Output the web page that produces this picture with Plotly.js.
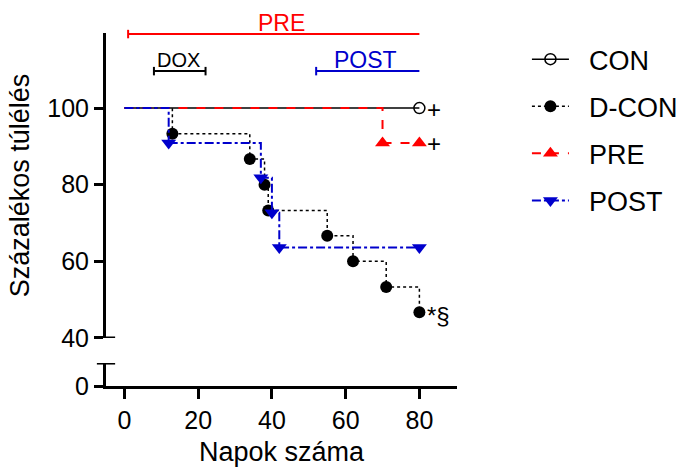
<!DOCTYPE html>
<html>
<head>
<meta charset="utf-8">
<script src="https://cdn.plot.ly/plotly-3.0.1.min.js"></script>
<style>html,body{margin:0;padding:0;background:#fff;}#chart{width:687px;height:470px;}</style>
</head>
<body>
<div id="chart"></div>
<script>
// ---- data ----
const groupNames = ['CON', 'D-CON', 'PRE', 'POST'];
const conDays  = [0, 80];
const conSurv  = [100, 100];
const dconDays = [0, 13, 34, 38, 39, 55, 62, 71, 80];
const dconSurv = [100, 93.3, 86.7, 80, 73.3, 66.7, 60, 53.3, 46.7];
const preDays  = [0, 70, 80];
const preSurv  = [100, 90.9, 90.9];
const postDays = [0, 12, 37, 40, 42, 80];
const postSurv = [100, 90.9, 81.8, 72.7, 63.6, 63.6];
const endMarks = ['+', '*§', '+', ''];
const periodNames = ['PRE', 'DOX', 'POST'];
const periodStart = [1, 8, 52];
const periodEnd   = [80, 22, 80];
const periodLabelDay = [42.5, 14.6, 65.4];
const xTicks = [0, 20, 40, 60, 80];
const yTicksUpper = [40, 60, 80, 100];
const yTicksLower = [0];

// ---- styles ----
const FONT = 'Liberation Sans, Arial, Helvetica, sans-serif';
const RED = '#FF0000', BLUE = '#0000CC', BLACK = '#000000';

const styles = [
  {line: {color: BLACK, width: 1.5, dash: 'solid'},
   marker: {symbol: 'circle-open', size: 11, color: BLACK, opacity: 1, line: {width: 1.5, color: BLACK}}},
  {line: {color: BLACK, width: 1.5, dash: 'dot'},
   marker: {symbol: 'circle', size: 12, color: BLACK, opacity: 1, line: {width: 0, color: BLACK}}},
  {line: {color: RED, width: 2, dash: 'dash'},
   marker: {symbol: 'triangle-up', size: 13, color: RED, opacity: 1, line: {width: 0, color: RED}}},
  {line: {color: BLUE, width: 2, dash: 'dashdot'},
   marker: {symbol: 'triangle-down', size: 13, color: BLUE, opacity: 1, line: {width: 0, color: BLUE}}}
];

const series = [[conDays, conSurv], [dconDays, dconSurv], [preDays, preSurv], [postDays, postSurv]];
const traces = [];
series.forEach((s, i) => {
  const st = styles[i];
  // initial step from day 0 to the first event (no symbol at day 0)
  traces.push({x: s[0].slice(0, 2), y: s[1].slice(0, 2), mode: 'lines', showlegend: false,
    legendgroup: 'g' + i, hoverinfo: 'skip', line: Object.assign({shape: 'hv'}, st.line)});
  // events (symbols) and the rest of the step curve
  traces.push({x: s[0].slice(1), y: s[1].slice(1), mode: 'lines+markers', name: '\u00a0\u00a0' + groupNames[i],
    legendgroup: 'g' + i, line: Object.assign({shape: 'hv'}, st.line), marker: st.marker});
});

const annotations = [];
series.forEach((s, i) => {
  if (!endMarks[i]) return;
  annotations.push({x: s[0][s[0].length - 1], y: s[1][s[1].length - 1], xref: 'x', yref: 'y',
    text: endMarks[i], showarrow: false, xanchor: 'left', xshift: 6, yshift: i === 1 ? -3 : -1,
    font: {family: FONT, size: 24, color: BLACK}});
});

const periodColors = [RED, BLACK, BLUE];
const periodBarY = [0.997, 0.892, 0.892];
const periodTextY = [1.029, 0.9235, 0.9235];
const periodFont = [23, 20, 23];
const periodRightCap = [false, true, false];
const shapes = [];
const capH = 0.012;
periodNames.forEach((n, i) => {
  const c = periodColors[i];
  shapes.push({type: 'line', xref: 'x', yref: 'paper', x0: periodStart[i], x1: periodEnd[i],
    y0: periodBarY[i], y1: periodBarY[i], line: {color: c, width: 2}});
  shapes.push({type: 'line', xref: 'x', yref: 'paper', x0: periodStart[i], x1: periodStart[i],
    y0: periodBarY[i] - capH, y1: periodBarY[i] + capH, line: {color: c, width: 2}});
  if (periodRightCap[i]) {
    shapes.push({type: 'line', xref: 'x', yref: 'paper', x0: periodEnd[i], x1: periodEnd[i],
      y0: periodBarY[i] - capH, y1: periodBarY[i] + capH, line: {color: c, width: 2}});
  }
  annotations.push({x: periodLabelDay[i], y: periodTextY[i], xref: 'x', yref: 'paper', text: n,
    showarrow: false, xanchor: 'center', yanchor: 'middle',
    font: {family: FONT, size: periodFont[i], color: c}});
});
// axis break caps
shapes.push({type: 'line', xref: 'paper', yref: 'y', x0: -0.026, x1: 0.026, y0: 40, y1: 40, line: {color: BLACK, width: 3}});
shapes.push({type: 'line', xref: 'paper', yref: 'y2', x0: -0.026, x1: 0.026, y0: 6, y1: 6, line: {color: BLACK, width: 3}});

const axisCommon = {showline: true, linewidth: 3, linecolor: BLACK, ticks: 'outside', tickwidth: 3,
  tickcolor: BLACK, showgrid: false, zeroline: false, tickfont: {family: FONT, size: 25, color: BLACK}};

const layout = {
  width: 687, height: 470,
  margin: {l: 106, r: 230, t: 33, b: 84, pad: 0},
  paper_bgcolor: '#fff', plot_bgcolor: '#fff',
  font: {family: FONT, color: BLACK},
  xaxis: Object.assign({}, axisCommon, {range: [-5, 90.2], tickvals: xTicks, ticklen: 10, anchor: 'y2',
    title: {text: 'Napok száma', font: {family: FONT, size: 27, color: BLACK}, standoff: 10}}),
  yaxis: Object.assign({}, axisCommon, {domain: [0.136, 1], range: [40, 119.6], tickvals: yTicksUpper, ticklen: 9,
    anchor: 'x', title: {text: 'Százalékos túlélés', font: {family: FONT, size: 27, color: BLACK}, standoff: 10}}),
  yaxis2: Object.assign({}, axisCommon, {domain: [0, 0.065], range: [0, 6], tickvals: yTicksLower, ticklen: 9, anchor: 'x'}),
  showlegend: true,
  legend: {xref: 'container', x: 0.767, y: 0.994, xanchor: 'left', yanchor: 'top',
    font: {family: FONT, size: 27, color: BLACK},
    itemwidth: 37, tracegroupgap: 9, traceorder: 'grouped', bgcolor: 'rgba(0,0,0,0)'},
  shapes: shapes,
  annotations: annotations
};

Plotly.newPlot('chart', traces, layout, {staticPlot: true, displayModeBar: false});
</script>
</body>
</html>
